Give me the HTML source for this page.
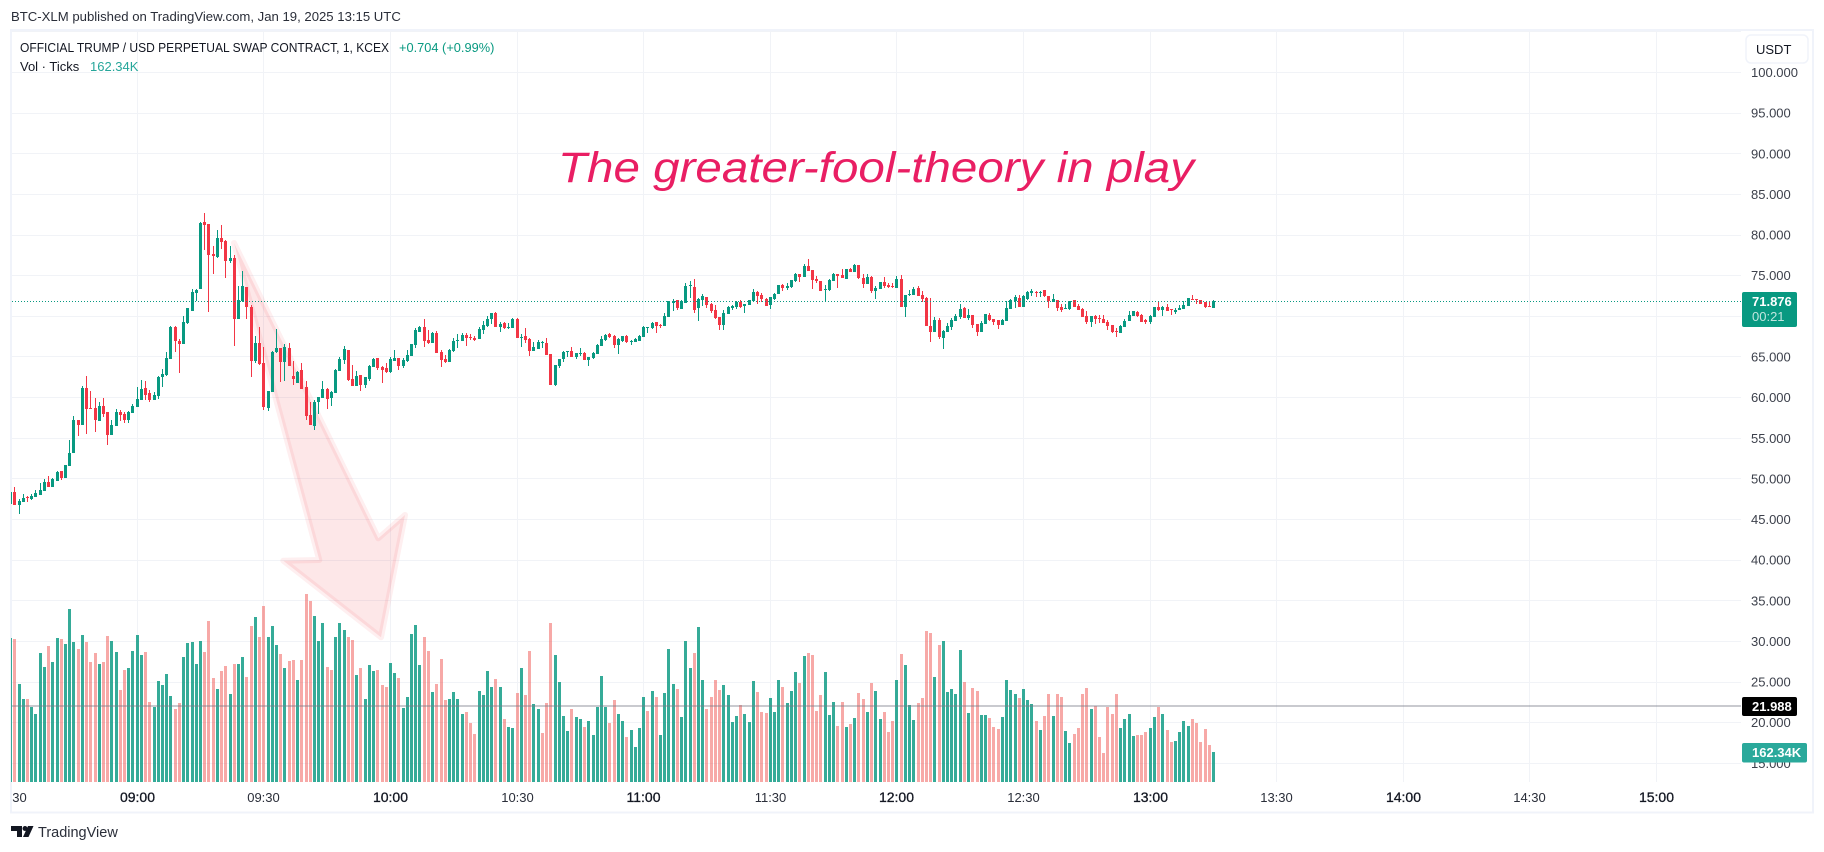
<!DOCTYPE html>
<html lang="en">
<head>
<meta charset="utf-8">
<title>OFFICIAL TRUMP / USD Perpetual Swap Contract chart</title>
<style>
html,body{margin:0;padding:0;background:#fff;width:1824px;height:852px;overflow:hidden}
svg{display:block;font-family:"Liberation Sans",sans-serif}
</style>
</head>
<body>
<svg id="chart" xmlns="http://www.w3.org/2000/svg" width="1824" height="852" viewBox="0 0 1824 852">
  <defs>
    <clipPath id="pane-clip"><rect x="11" y="31" width="1730" height="751"/></clipPath>
    <clipPath id="axis-clip"><rect x="12" y="783" width="1729" height="29"/></clipPath>
  </defs>
  <rect x="0" y="0" width="1824" height="852" fill="#ffffff"/>
  <text x="11" y="21" font-size="13.15" fill="#2a2e39">BTC-XLM published on TradingView.com, Jan 19, 2025 13:15 UTC</text>
  <rect x="11" y="30" width="1802" height="782.5" fill="none" stroke="#f0f3fa" stroke-width="2"/>

  <g id="grid" clip-path="url(#pane-clip)"></g>
  <polygon points="234,243 378.3,538.3 405,515 381,637.3 283.3,560.7 319.3,560" fill="rgba(242,54,69,0.12)" stroke="rgba(242,54,69,0.08)" stroke-width="6" stroke-linejoin="round"/>
  <g id="volume-bars" clip-path="url(#pane-clip)" shape-rendering="crispEdges"></g>
  <g id="candles" clip-path="url(#pane-clip)" shape-rendering="crispEdges"></g>
  <line x1="12" x2="1741" y1="301.5" y2="301.5" stroke="#089981" stroke-width="1" stroke-dasharray="1 2"/>
  <rect x="12" y="705" width="1729" height="2" fill="rgba(120,123,134,0.4)"/>

  <text x="558" y="182" font-size="43" font-style="italic" fill="#e91e63" textLength="636" lengthAdjust="spacingAndGlyphs">The greater-fool-theory in play</text>

  <text x="20" y="52" font-size="13" fill="#131722" textLength="369" lengthAdjust="spacingAndGlyphs">OFFICIAL TRUMP / USD PERPETUAL SWAP CONTRACT, 1, KCEX</text>
  <text x="399" y="52" font-size="12.8" fill="#089981">+0.704 (+0.99%)</text>
  <text x="20" y="71" font-size="13" fill="#131722">Vol · Ticks</text>
  <text x="90" y="71" font-size="13" fill="#26a69a">162.34K</text>

  <g id="price-axis"></g>
  <g id="time-axis" clip-path="url(#axis-clip)"></g>

  <g>
    <rect x="1746" y="35" width="62" height="28" rx="5" fill="#ffffff" stroke="#f0f3fa" stroke-width="1.5"/>
    <text x="1756" y="54" font-size="13" fill="#131722">USDT</text>
  </g>

  <g>
    <rect x="1742" y="292" width="55" height="35" rx="2" fill="#089981"/>
    <text x="1752" y="306" font-size="13" font-weight="bold" fill="#ffffff">71.876</text>
    <text x="1752" y="321" font-size="13" fill="rgba(255,255,255,0.75)">00:21</text>
  </g>
  <g>
    <rect x="1742" y="697" width="55" height="19" rx="2" fill="#000000"/>
    <text x="1752" y="711" font-size="13" font-weight="bold" fill="#ffffff">21.988</text>
  </g>
  <g>
    <rect x="1742" y="743" width="65" height="19.5" rx="2" fill="#2aa99b"/>
    <text x="1752" y="757" font-size="13" font-weight="bold" fill="#ffffff">162.34K</text>
  </g>

  <g>
    <polygon points="11,826 22,826 22,837 17,837 17,831 11,831" fill="#131722"/>
    <circle cx="25" cy="828.5" r="2.5" fill="#131722"/>
    <polygon points="28,826 33.5,826 28.5,837 23,837" fill="#131722"/>
    <text x="38" y="837" font-size="14.5" fill="#2a2e39">TradingView</text>
  </g>
</svg>

<script>
const opens = [
46.92,48.39,46.79,47.16,47.78,47.53,47.78,48.02,48.51,49.62,
49.01,49.74,50.97,50.11,51.59,53.19,57.25,56.63,61.18,58.72,
58.72,57.12,58.97,58.23,55.40,56.51,58.23,57.98,57.24,58.10,
58.84,59.71,61.18,60.57,59.71,60.20,62.53,62.78,64.75,68.68,
66.96,66.59,69.18,70.65,72.87,73.36,81.60,81.36,77.67,77.30,
79.63,79.27,76.81,77.17,69.67,71.88,73.61,71.15,64.50,66.72,
64.26,58.72,60.69,65.61,66.10,64.38,66.10,62.66,61.80,63.40,
61.30,57.86,56.51,59.46,59.95,61.06,59.95,60.57,63.27,64.63,
65.86,62.29,61.43,62.78,61.55,62.29,63.76,64.87,63.76,63.64,
63.15,64.50,64.87,63.89,64.50,65.12,66.47,68.07,68.69,67.09,
66.72,67.95,65.61,64.75,64.38,65.73,66.96,66.96,67.70,67.46,
67.33,67.21,68.32,68.81,69.67,70.41,68.69,69.18,68.56,68.56,
69.67,67.33,67.58,67.21,65.73,65.98,66.72,66.72,65.37,61.55,
63.89,64.75,65.61,65.73,65.00,65.37,65.49,64.63,64.87,65.37,
66.35,67.09,67.83,67.58,66.47,66.96,67.58,66.84,66.84,66.96,
67.46,68.56,68.56,69.30,68.93,68.81,69.92,71.64,72.01,70.90,
71.64,73.73,73.61,71.02,72.01,72.38,71.52,70.78,69.92,68.93,
70.29,71.02,71.15,71.76,71.27,71.39,71.89,72.99,72.62,72.13,
71.39,72.13,72.75,73.85,73.48,73.61,74.35,75.21,74.84,76.19,
75.70,74.59,74.35,73.24,73.24,74.35,75.21,75.08,74.59,75.82,
75.45,76.31,74.72,73.98,74.84,73.12,73.36,74.22,73.85,73.73,
73.48,74.59,71.15,72.62,72.62,73.48,72.62,72.25,68.81,68.07,
69.55,67.33,68.07,68.69,69.42,69.92,71.02,69.79,70.16,69.06,
68.07,69.06,70.16,69.67,69.55,68.93,69.42,70.90,71.89,72.25,
71.15,72.13,72.87,72.99,72.87,73.24,72.50,71.76,72.01,71.15,
70.90,70.90,72.01,71.27,70.90,70.04,69.30,70.04,69.79,69.67,
69.30,68.93,68.19,67.95,68.69,69.42,70.04,70.53,70.16,69.55,
69.30,69.92,71.15,70.78,71.15,70.90,70.53,70.78,70.90,71.27,
72.13,72.13,72.01,71.76,71.27,71.02];
const highs = [
48.39,49.01,47.53,48.14,47.90,48.14,48.64,49.50,49.99,50.36,
50.11,50.97,50.97,51.71,54.79,57.74,57.25,61.43,62.66,60.81,
59.95,59.46,59.95,58.23,57.24,58.60,58.47,58.23,58.35,59.21,
61.30,62.16,62.04,60.93,60.69,62.66,63.52,65.61,68.81,68.81,
67.21,70.04,71.02,73.36,73.36,81.60,82.71,81.36,78.65,80.62,
81.23,79.39,78.65,77.54,73.73,75.58,73.61,71.39,67.58,68.68,
66.22,60.81,65.73,68.44,66.10,66.59,66.72,64.50,63.27,64.26,
62.04,59.46,59.70,60.07,62.04,61.18,60.81,63.52,65.00,66.35,
65.86,64.01,63.27,62.78,62.53,64.01,64.87,64.87,63.89,64.26,
65.00,65.86,64.87,64.87,65.86,66.59,68.56,68.81,69.67,68.32,
68.07,68.19,65.86,65.24,65.98,67.33,67.83,67.95,67.95,67.83,
67.58,68.69,69.42,70.04,70.41,70.53,69.30,69.30,69.18,69.79,
69.79,67.83,68.56,67.33,66.84,67.09,66.96,67.33,65.37,64.01,
64.75,65.73,65.73,66.23,65.49,66.10,65.61,65.00,65.61,66.60,
67.58,67.83,67.95,67.70,67.33,67.58,67.70,67.09,67.33,67.70,
68.81,68.69,69.30,69.30,69.06,70.41,71.89,72.13,72.01,72.01,
74.10,74.35,74.59,72.25,72.75,72.38,71.64,71.39,69.92,70.78,
71.27,71.39,71.89,72.01,71.52,72.01,73.36,73.12,72.87,72.25,
72.38,72.87,73.85,73.98,74.10,74.47,75.33,75.21,76.44,77.05,
75.70,74.96,74.35,73.85,74.59,75.33,75.21,75.82,75.82,75.95,
76.44,76.31,75.21,75.21,74.96,73.73,74.22,74.84,74.10,74.10,
74.96,75.08,72.62,73.24,73.61,73.73,73.12,72.38,72.25,69.92,
69.79,68.32,69.18,69.79,70.29,71.52,71.15,70.90,70.16,69.06,
69.42,70.29,70.41,69.67,69.55,69.67,71.89,72.13,72.62,72.62,
72.62,73.12,73.36,73.12,73.12,73.24,72.50,72.75,72.01,71.52,
71.52,71.89,72.01,71.52,71.02,70.66,70.04,70.16,70.16,70.16,
69.55,68.93,68.56,68.93,69.67,70.66,70.66,70.66,70.29,69.67,
70.16,71.15,71.76,71.27,71.52,70.90,71.02,71.39,71.89,72.25,
72.62,72.13,72.01,71.76,71.76,72.01];
const lows = [
46.92,46.79,45.68,47.16,47.16,47.41,47.78,48.02,48.51,49.01,
49.01,49.74,49.87,50.11,51.59,53.19,55.28,56.63,55.52,58.60,
55.77,57.12,57.61,54.17,55.40,56.51,57.12,56.87,56.87,58.10,
58.84,59.71,59.71,59.46,59.71,59.83,61.30,62.66,64.75,65.61,
63.03,66.59,69.06,70.65,71.88,73.36,78.16,70.53,75.21,77.17,
78.28,74.71,76.56,66.35,69.67,71.76,69.67,62.53,64.26,64.01,
58.47,58.35,60.69,65.49,61.92,62.04,63.89,61.55,61.80,61.06,
57.24,56.63,56.01,57.98,59.95,58.60,58.97,60.57,63.27,64.13,
62.04,61.43,61.43,60.81,61.18,62.04,63.76,63.40,61.80,63.03,
63.03,64.50,63.40,63.64,64.38,65.12,66.10,68.07,66.23,66.60,
66.72,65.49,63.77,64.26,64.38,65.61,66.10,66.96,66.35,67.09,
66.96,67.21,67.83,68.69,69.06,68.69,68.07,68.44,68.44,68.56,
67.33,66.23,66.72,65.12,65.73,65.98,66.10,65.24,61.55,61.43,
63.64,64.38,65.00,65.00,64.75,65.12,64.63,63.89,64.75,65.37,
66.35,66.96,67.33,66.10,65.37,66.84,66.72,66.47,66.84,66.96,
67.46,67.95,68.44,67.95,68.56,68.81,69.92,70.66,70.78,70.90,
71.64,72.25,70.41,69.42,71.27,71.02,70.41,69.67,68.32,68.32,
70.29,70.78,70.90,71.02,70.41,71.39,71.76,71.52,71.76,71.27,
70.90,72.01,72.75,73.12,73.24,73.48,74.22,74.22,74.84,75.58,
73.36,74.10,73.12,71.89,73.12,74.35,73.48,74.72,74.59,75.45,
75.45,74.59,73.48,73.98,72.87,72.13,73.36,73.48,73.48,73.48,
73.48,71.15,69.92,72.50,72.62,72.50,71.76,68.81,66.84,68.07,
67.21,65.98,68.07,68.32,69.42,69.67,69.79,69.55,68.56,67.58,
68.07,69.06,69.42,68.93,68.44,68.93,69.42,70.90,71.02,71.15,
71.15,72.01,72.50,72.38,72.38,72.38,71.02,71.76,70.66,70.53,
70.90,70.78,71.15,70.78,69.92,69.06,68.69,69.06,69.18,69.18,
68.32,67.95,67.46,67.95,68.69,69.42,70.04,69.92,69.30,69.06,
69.06,69.92,70.66,70.04,70.66,70.16,70.29,70.78,70.90,71.27,
72.01,71.52,71.52,71.02,71.15,71.02];
const closes = [
48.39,46.79,47.28,47.65,47.65,47.90,48.27,48.64,49.62,49.01,
49.99,50.85,50.11,51.71,53.19,57.25,56.63,61.18,58.60,58.60,
57.24,58.97,57.98,55.40,56.63,58.23,57.86,57.24,58.23,58.97,
59.83,61.06,60.32,59.71,60.32,62.53,62.90,64.87,68.68,66.96,
66.59,69.30,71.02,72.99,73.24,81.48,81.23,77.54,77.42,79.63,
79.14,76.81,77.17,69.67,72.01,73.73,71.15,64.50,66.72,64.13,
58.84,60.81,65.61,66.10,64.38,66.22,63.89,62.29,63.15,61.06,
57.74,56.63,59.46,60.07,61.06,59.83,60.69,63.40,64.75,65.98,
62.16,61.43,62.66,61.55,62.53,63.89,64.75,63.64,63.40,63.15,
64.75,64.87,63.89,64.63,65.24,66.59,68.32,68.69,66.96,66.72,
67.95,65.49,64.63,64.38,65.86,66.96,67.09,67.70,67.33,67.33,
67.09,68.44,68.93,69.67,70.41,68.69,69.06,68.56,68.69,69.67,
67.33,67.46,67.09,65.73,66.23,66.84,66.84,65.24,61.55,64.01,
64.75,65.61,65.73,65.00,65.49,65.49,64.63,65.00,65.49,66.47,
67.21,67.70,67.46,66.47,67.21,67.58,66.84,66.96,67.21,67.58,
68.69,68.69,69.18,68.81,68.81,70.04,71.89,71.89,71.02,71.89,
73.73,73.85,70.78,72.13,72.50,71.39,70.66,69.79,68.93,70.41,
71.15,71.27,71.76,71.15,71.52,72.01,72.99,72.50,72.13,71.27,
72.38,72.75,73.85,73.48,73.73,74.47,75.21,74.84,76.19,75.58,
74.47,74.35,73.12,73.36,74.47,75.21,74.96,74.72,75.82,75.45,
76.31,74.72,73.98,74.84,73.12,73.48,74.22,73.73,73.61,73.61,
74.59,71.15,72.62,72.75,73.36,72.50,72.13,68.81,68.07,69.55,
67.46,68.19,68.81,69.55,70.04,70.90,69.79,70.16,68.93,68.07,
69.18,70.29,69.55,69.30,68.93,69.55,71.02,72.01,72.38,71.15,
72.50,72.99,73.12,72.87,72.99,72.50,71.89,72.13,71.02,70.78,
71.02,71.89,71.15,70.78,69.92,69.30,70.04,69.67,69.67,69.18,
68.81,68.07,68.07,68.81,69.42,70.16,70.66,70.04,69.30,69.30,
70.04,71.15,70.78,71.15,70.66,70.78,70.78,71.02,71.39,72.25,
72.01,72.01,71.52,71.15,71.15,71.88];
const volumesK = [
778,772,529,448,448,405,367,697,621,734,
648,778,772,745,934,756,718,794,756,648,
697,637,648,788,761,702,497,605,616,707,
794,686,702,432,405,545,524,583,464,394,
427,675,751,756,637,761,702,869,562,502,
599,626,475,637,637,675,567,842,891,783,
950,783,842,740,691,616,653,659,551,659,
1015,977,896,761,859,621,605,783,859,821,
783,767,578,616,448,632,599,605,524,513,
643,589,562,400,459,799,848,632,783,707,
486,529,664,443,448,486,448,367,378,319,
259,491,470,599,513,556,513,340,297,292,
481,616,470,707,421,394,265,427,859,686,
540,356,275,394,351,340,297,329,254,405,
572,405,319,443,367,329,243,281,189,292,
459,383,491,459,254,481,718,529,502,351,
761,616,697,837,551,394,459,551,497,524,
470,324,356,416,367,324,545,486,378,373,
454,378,551,513,427,491,594,535,680,697,
686,383,470,594,362,432,302,432,297,313,
346,481,448,378,535,491,340,378,270,329,
551,691,632,416,335,427,454,815,805,567,
740,761,486,502,475,713,540,373,508,491,
362,362,346,297,286,351,551,497,475,454,
502,443,421,329,281,356,475,356,475,459,
275,211,259,292,475,508,394,410,243,157,
405,367,475,292,340,367,248,254,254,270,
292,351,405,367,281,216,221,270,329,302,
340,319,216,286,200,162.34];
const volumeDirections = [
"u","d","u","u","d","u","u","u","u","d",
"u","u","d","u","u","u","d","u","d","d",
"d","u","d","d","u","u","d","d","u","u",
"u","u","d","d","u","u","u","u","u","d",
"d","u","u","u","u","u","d","d","d","u",
"d","d","u","d","u","u","d","d","u","d",
"d","u","u","u","d","u","d","d","u","d",
"d","d","u","u","u","d","d","u","u","u",
"d","d","u","d","u","u","u","d","d","d",
"u","u","d","u","u","u","u","u","d","d",
"u","d","d","d","u","u","u","u","d","d",
"d","u","u","u","u","d","u","d","u","u",
"d","u","d","d","u","u","d","d","d","u",
"u","u","u","d","u","u","d","u","u","u",
"u","u","d","d","u","u","d","u","u","u",
"u","d","u","d","u","u","u","u","d","u",
"u","u","d","u","u","d","d","d","d","u",
"u","u","u","d","u","u","u","d","d","d",
"u","u","u","d","u","u","u","d","u","d",
"d","d","d","u","u","u","d","d","u","d",
"u","d","d","u","d","u","u","d","d","d",
"u","d","u","u","u","d","d","d","d","u",
"d","u","u","u","u","u","d","u","d","d",
"u","u","d","d","d","u","u","u","u","d",
"u","u","u","d","u","d","d","u","d","d",
"u","u","d","d","d","d","u","d","d","d",
"d","d","d","u","u","u","u","d","d","d",
"u","u","d","u","d","d","u","u","u","u",
"d","d","d","d","d","u"];
const priceGridLevels = [105,100,95,90,85,80,75,70,65,60,55,50,45,40,35,30,25,20,15];
const priceTickValues = [100,95,90,85,80,75,70,65,60,55,50,45,40,35,30,25,20,15];
const priceTickLabels = ["100.000","95.000","90.000","85.000","80.000","75.000","70.000","65.000","60.000","55.000","50.000","45.000","40.000","35.000","30.000","25.000","20.000","15.000"];
const timeTickBars = [0,30,60,90,120,150,180,210,240,270,300,330,360,390];
const timeTickLabels = ["08:30","09:00","09:30","10:00","10:30","11:00","11:30","12:00","12:30","13:00","13:30","14:00","14:30","15:00"];

const SVG_NS = "http://www.w3.org/2000/svg";
function xScale(barIndex){ return 10.6 + barIndex * 4.2205; }
function yPrice(price){ return 72.5 + (100 - price) * 8.128; }
function yVolume(volume){ return 782 - volume / 5.4; }

const gridGroup = document.getElementById("grid");
const volumeGroup = document.getElementById("volume-bars");
const candleGroup = document.getElementById("candles");
const priceAxisGroup = document.getElementById("price-axis");
const timeAxisGroup = document.getElementById("time-axis");

priceGridLevels.forEach(function(level){
  const line = document.createElementNS(SVG_NS, "rect");
  
  
  line.setAttribute("x", 12);
  line.setAttribute("y", Math.floor(yPrice(level)));
  line.setAttribute("width", 1729);
  line.setAttribute("height", 1);
  line.setAttribute("fill", "#f1f3f7");
  gridGroup.appendChild(line);
});

timeTickBars.forEach(function(bar, i){
  if (i > 0) {
    const line = document.createElementNS(SVG_NS, "rect");
    
    
    line.setAttribute("x", Math.floor(xScale(bar)));
    line.setAttribute("y", 31);
    line.setAttribute("width", 1);
    line.setAttribute("height", 751);
    line.setAttribute("fill", "#f1f3f7");
    gridGroup.appendChild(line);
  }
  const label = document.createElementNS(SVG_NS, "text");
  
  
  const isHour = timeTickLabels[i].slice(3) === "00";
  label.setAttribute("x", Math.floor(xScale(bar)) + 0.5);
  label.setAttribute("y", 802);
  label.setAttribute("text-anchor", "middle");
  label.setAttribute("font-size", isHour ? 14 : 13);
  label.setAttribute("fill", isHour ? "#131722" : "#2a2e39");
  if (isHour) {
    label.setAttribute("stroke", "#131722");
    label.setAttribute("stroke-width", "0.3");
  }
  label.textContent = timeTickLabels[i];
  timeAxisGroup.appendChild(label);
});

priceTickValues.forEach(function(value, i){
  const label = document.createElementNS(SVG_NS, "text");
  
  
  label.setAttribute("x", 1751);
  label.setAttribute("y", yPrice(value) + 4.5);
  label.setAttribute("font-size", 13);
  label.setAttribute("fill", "#3c404b");
  label.textContent = priceTickLabels[i];
  priceAxisGroup.appendChild(label);
});

volumesK.forEach(function(volume, i){
  const bar = document.createElementNS(SVG_NS, "rect");
  
  
  const top = Math.round(yVolume(volume));
  bar.setAttribute("x", Math.floor(xScale(i)) - 1);
  bar.setAttribute("y", top);
  bar.setAttribute("width", 3);
  bar.setAttribute("height", 782 - top);
  bar.setAttribute("fill", volumeDirections[i] === "u" ? "rgba(8,153,129,0.82)" : "rgba(239,83,80,0.5)");
  volumeGroup.appendChild(bar);
});

opens.forEach(function(open, i){
  const close = closes[i];
  const color = close >= open ? "#089981" : "#f23645";
  const px = Math.floor(xScale(i));
  const wick = document.createElementNS(SVG_NS, "rect");
  
  
  const wickTop = Math.round(yPrice(highs[i]));
  const wickBottom = Math.round(yPrice(lows[i]));
  wick.setAttribute("x", px);
  wick.setAttribute("y", wickTop);
  wick.setAttribute("width", 1);
  wick.setAttribute("height", Math.max(1, wickBottom - wickTop));
  wick.setAttribute("fill", color);
  candleGroup.appendChild(wick);
  const body = document.createElementNS(SVG_NS, "rect");
  
  
  const bodyTop = Math.round(yPrice(Math.max(open, close)));
  const bodyBottom = Math.round(yPrice(Math.min(open, close)));
  body.setAttribute("x", px - 1);
  body.setAttribute("y", bodyTop);
  body.setAttribute("width", 3);
  body.setAttribute("height", Math.max(1, bodyBottom - bodyTop));
  body.setAttribute("fill", color);
  candleGroup.appendChild(body);
});
</script>
</body>
</html>
